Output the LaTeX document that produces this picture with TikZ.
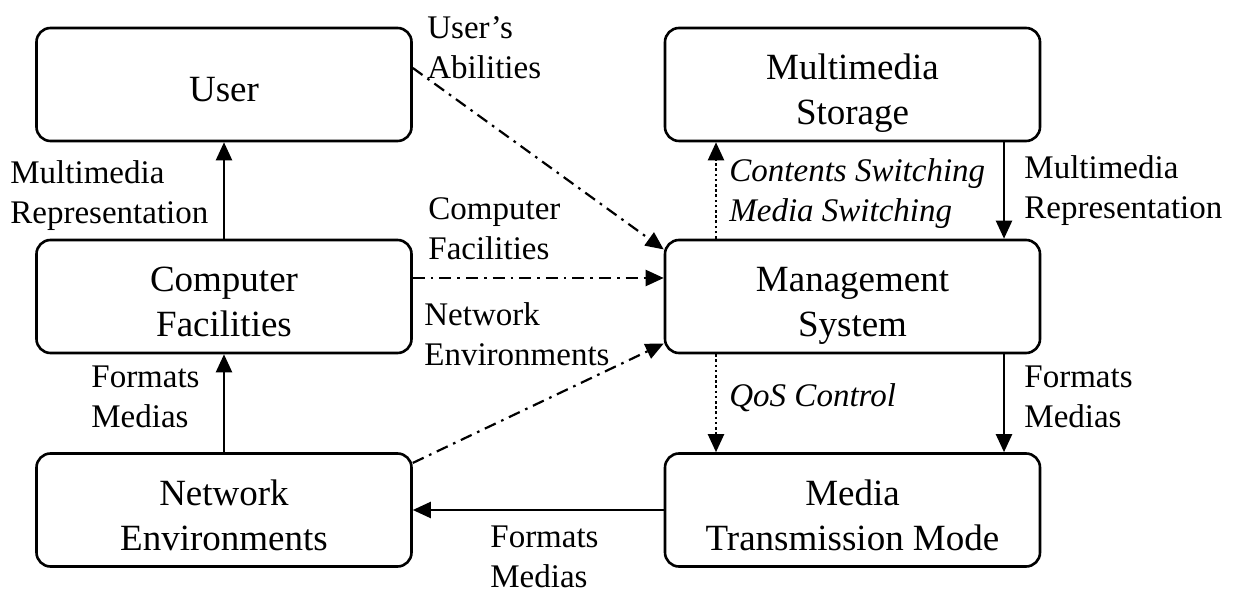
\documentclass[tikz,border=0pt]{standalone}
\usepackage{fontspec}
\setmainfont{Liberation Serif}
\usetikzlibrary{arrows.meta}
\begin{document}
\begin{tikzpicture}[x=0.5pt,y=-0.5pt,
  box/.style={draw, line width=1.3pt, rounded corners=7pt,
    minimum width=187.5pt, minimum height=56.5pt, inner sep=0pt,
    align=center, font=\fontsize{18.5}{22.5}\selectfont},
  oneline/.style={text height=17pt, text depth=0pt},
  twoline/.style={text height=40.5pt, text depth=0pt},
  lbl/.style={anchor=north west, inner sep=0pt, align=left,
    font=\fontsize{16.5}{20}\selectfont},
  tip/.style={-{Triangle[length=9pt,width=8pt]}},
  flow/.style={tip, line width=1.1pt},
  ctrl/.style={tip, line width=1.1pt, dash pattern=on 1.3pt off 1.3pt},
  info/.style={tip, line width=1.1pt, dash pattern=on 6pt off 3pt on 1.3pt off 3pt}
]
\useasboundingbox (0,0) rectangle (1235,592);

% blocks
\node[box, oneline] (user)  at (224,84.5)   {User};
\node[box, twoline] (cf)    at (224,296.5)  {Computer\\Facilities};
\node[box, twoline] (ne)    at (224,510)    {Network\\Environments};
\node[box, twoline] (store) at (852.5,84.5) {Multimedia\\Storage};
\node[box, twoline] (ms)    at (852.5,296.5){Management\\System};
\node[box, twoline] (mtm)   at (852.5,510)  {Media\\Transmission Mode};

% vertical lanes on the right column and the horizontal lane of the middle row
\coordinate (lanea) at (716,0);
\coordinate (laneb) at (1004,0);
\coordinate (lanec) at (0,278);

% solid data flows
\draw[flow] (cf.north) -- (user.south);
\draw[flow] (ne.north) -- (cf.south);
\draw[flow] (store.south -| laneb) -- (ms.north -| laneb);
\draw[flow] (ms.south -| laneb) -- (mtm.north -| laneb);
\draw[flow] (mtm.west) -- (ne.east);

% dotted control flows
\draw[ctrl] (ms.north -| lanea) -- (store.south -| lanea);
\draw[ctrl] (ms.south -| lanea) -- (mtm.north -| lanea);

% dash-dotted information flows
\draw[info] (user.5) -- (ms.166);
\draw[info] (cf.east |- lanec) -- (ms.west |- lanec);
\draw[info] (ne.14) -- (ms.194);

% labels
\node[lbl] (l1) at (427,16)  {User’s\\Abilities};
\node[lbl] (l2) at (10,160)  {Multimedia\\Representation};
\node[lbl] (l3) at (428,197) {Computer\\Facilities};
\node[lbl] (l4) at (424,302) {Network\\Environments};
\node[lbl] (l5) at (91,365)  {Formats\\Medias};
\node[lbl] (l6) at (490,525) {Formats\\Medias};
\node[lbl, font=\fontsize{16.5}{20}\selectfont\itshape] (l7) at (729,158) {Contents Switching\\Media Switching};
\node[lbl] (l8) at (1024,155) {Multimedia\\Representation};
\node[lbl, font=\fontsize{16.5}{20}\selectfont\itshape] (l9) at (729,383) {QoS Control};
\node[lbl] (l10) at (1024,365) {Formats\\Medias};
\end{tikzpicture}
\end{document}
